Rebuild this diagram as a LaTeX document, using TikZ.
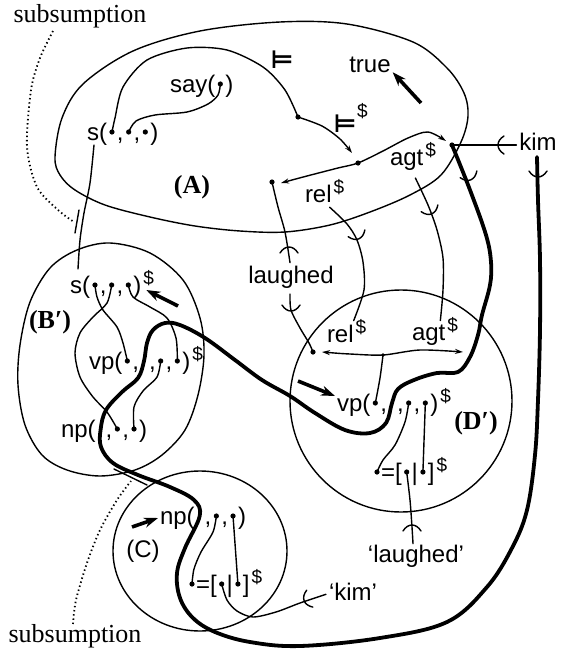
\documentclass[tikz,border=0pt]{standalone}
\usepackage{fontspec}
\setmainfont{Liberation Serif}
\setsansfont{Liberation Sans}
\newfontfamily\symfont{DejaVu Sans}
\usetikzlibrary{calc,arrows.meta}

\tikzset{
  lbl/.style={font=\sffamily\fontsize{24}{28}\selectfont, inner sep=0pt, outer sep=0pt},
  sup/.style={font=\sffamily\fontsize{19}{22}\selectfont, inner sep=0pt, outer sep=0pt},
  serif/.style={font=\rmfamily\fontsize{26}{30}\selectfont, inner sep=0pt, outer sep=0pt},
  regiontag/.style={font=\rmfamily\bfseries\fontsize{26}{30}\selectfont, inner sep=0pt, outer sep=0pt},
  modsym/.style={font=\symfont\bfseries\fontsize{25}{28}\selectfont, inner sep=0pt, outer sep=0pt},
  wire/.style={line width=1.4pt, line cap=round},
  fat/.style={line width=3.8pt, line cap=round, line join=round},
  hint/.style={line width=3.6pt, -{Stealth[length=14pt,width=10pt]}},
  tipe/.style={-{Stealth[length=8pt,width=5pt]}},
  tips/.style={{Stealth[length=8pt,width=5pt]}-{Stealth[length=8pt,width=5pt]}},
  subs/.style={line width=1.8pt, dash pattern=on 1.4pt off 2.8pt},
  arctick/.pic={\draw[wire] (-9,-4) .. controls (-4,4) and (4,4) .. (9,-4);},
}

% a term such as vp(.,.,.): head text, then #5 argument slots with named dots
\newcommand\argrow[5]{%
  \node[lbl, anchor=base west] (#1-0) at (#2,#3) {#4(};
  \foreach \i in {1,...,#5}{%
    \pgfmathtruncatemacro\j{\i-1}%
    \coordinate (#1-d\i) at ($(#1-\j.base east)+(5,-8)$);
    \ifnum\i<#5\relax
      \node[lbl, anchor=base west] (#1-\i) at ($(#1-\j.base east)+(10,0)$) {,};
    \else
      \node[lbl, anchor=base west] (#1-\i) at ($(#1-\j.base east)+(10,0)$) {)};
    \fi
  }%
}
% a list term .=[.|.]$
\newcommand\eqrow[3]{%
  \coordinate (#1-d0) at (#2,#3-8);
  \node[lbl, anchor=base west] (#1-a) at (#2+4,#3) {=[};
  \coordinate (#1-d1) at ($(#1-a.base east)+(5,-8)$);
  \node[lbl, anchor=base west] (#1-b) at ($(#1-a.base east)+(10,0)$) {|};
  \coordinate (#1-d2) at ($(#1-b.base east)+(5,-8)$);
  \node[lbl, anchor=base west] (#1-c) at ($(#1-b.base east)+(10,0)$) {]};
  \node[sup, anchor=base west] (#1-dol) at ($(#1-c.base east)+(2,-9)$) {\$};
}
\newcommand\dollarafter[1]{%
  \node[sup, anchor=base west] (#1-dol) at ($(#1.base east)+(2,-9)$) {\$};
}

\begin{document}
\begin{tikzpicture}[x=1pt, y=-1pt]
\useasboundingbox (0,0) rectangle (566,654);

% ---------- region outlines ----------
\draw[wire] plot[smooth cycle, tension=0.55] coordinates {(55,157) (62,118) (83,84) (133,51) (200,31) (280,22) (347,24) (413,42) (447,68) (464,93) (468,116) (461,142) (441,175) (410,195) (370,212) (330,225) (285,232) (240,231) (195,226) (150,217) (105,205) (75,190) (60,175)};
\draw[wire] plot[smooth cycle, tension=0.55] coordinates {(110,243) (150,253) (183,280) (200,318) (204,355) (198,395) (185,430) (162,455) (135,470) (100,476) (67,470) (42,455) (25,425) (18,385) (20,345) (30,302) (50,268) (77,250)};
\draw[wire] (401,401) circle[radius=111pt];
\draw[wire] (200,551) ellipse[x radius=87pt, y radius=80pt];

% ---------- terms ----------
\argrow{sA}{87}{140}{s}{3}
\argrow{say}{170}{92}{say}{1}
\argrow{sB}{70}{293}{s}{3} \dollarafter{sB-3}
\argrow{vpB}{89}{369}{vp}{4} \dollarafter{vpB-4}
\argrow{npB}{61}{437}{np}{3}
\argrow{vpD}{337}{411}{vp}{4} \dollarafter{vpD-4}
\argrow{npC}{160}{524}{np}{3}
\eqrow{eqD}{377}{480}
\eqrow{eqC}{192}{592}

% ---------- labels ----------
\node[lbl, anchor=base] (true) at (370,72) {true};
\node[lbl, anchor=base] (kim) at (538,150) {kim};
\node[lbl, anchor=base] (laughed) at (291,283) {laughed};
\node[lbl, anchor=base west] (relA) at (305,202) {rel}; \dollarafter{relA}
\node[lbl, anchor=base west] (agtA) at (390,165) {agt}; \dollarafter{agtA}
\node[lbl, anchor=base west] (relD) at (327,342) {rel}; \dollarafter{relD}
\node[lbl, anchor=base west] (agtD) at (412,340) {agt}; \dollarafter{agtD}
\node[lbl, anchor=base] (laughq) at (416,562) {`laughed'};
\node[lbl, anchor=base] (kimq) at (353,600) {`kim'};
\node[regiontag] (tagA) at (192,187) {(A)};
\node[regiontag] (tagB) at (50,322) {(B′)};
\node[regiontag] (tagD) at (476,423) {(D′)};
\node[lbl] (tagC) at (143,551) {(C)};
\node[serif, anchor=base] (subT) at (80,22) {subsumption};
\node[serif, anchor=base] (subB) at (75,642) {subsumption};
\node[modsym] (mod1) at (282,60) {⊨};
\node[modsym] (mod2) at (345,124) {⊨};
\node[sup, anchor=base west] (mod2-dol) at (357,117) {\$};

% ---------- named points ----------
\coordinate (n1) at (298,117);
\coordinate (mA) at (358,163);
\coordinate (rA) at (272,182);
\coordinate (rAt) at (281,183);
\coordinate (K) at (452,145);
\coordinate (Kt) at (446,141);
\coordinate (n1t) at (352,153);
\coordinate (rD) at (313,352);
\coordinate (rDt) at (322,352);
\coordinate (J) at (383,355);
\coordinate (Jt) at (463,352);
\coordinate (kimR) at ($(kim.base)+(-1,7)$);
\coordinate (kimL) at ($(kim.base west)+(-3,-5)$);
\coordinate (sAfoot) at ($(sA-0.base west)+(7,5)$);
\coordinate (sBtop) at ($(sB-0.base west)+(8,-24)$);
\coordinate (laughtop) at ($(laughed.north)+(-1,-3)$);
\coordinate (laughfoot) at ($(laughed.south)+(-1,6)$);
\coordinate (relAfoot) at ($(relA.south east)+(-2,5)$);
\coordinate (relDtop) at ($(relD.north east)+(0,-4)$);
\coordinate (agtAfoot) at ($(agtA.south east)+(-8,8)$);
\coordinate (agtDtop) at ($(agtD.north east)+(-5,-4)$);
\coordinate (laughqtop) at ($(laughq.north)+(-3,-1)$);
\coordinate (kimqend) at ($(kimq.west)+(-3,3)$);
\coordinate (subTfoot) at ($(subT.base)+(-27,9)$);
\coordinate (subBtop) at ($(subB.base)+(-2,-18)$);

% ---------- region A ----------
\draw[wire] plot[smooth] coordinates {(sA-d1) (115,118) (123,87) (147,60) (187,48) (227,50) (263,67) (285,90) (n1)};
\draw[wire, tipe] plot[smooth] coordinates {(n1) (322,126) (340,139) (n1t)};
\draw[wire] plot[smooth] coordinates {(sA-d2) (136,121) (155,115) (187,112) (208,104) (218,95) (say-d1)};
\draw[wire, tips] plot[smooth] coordinates {(rAt) (307,176) (338,168) (mA) (383,151) (408,138) (428,132) (Kt)};
\draw[wire] (kimL) -- (K);
\draw[wire] plot[smooth] coordinates {(rA) (278,207) (285,232) (laughtop)};
\draw[wire] plot[smooth] coordinates {(laughfoot) (291,310) (300,328) (309,343) (rD)};
\draw[wire] plot[smooth] coordinates {(relAfoot) (347,224) (357,240) (363,262) (364,290) (relDtop)};
\draw[wire] plot[smooth] coordinates {(agtAfoot) (428,205) (437,230) (443,258) (443,290) (agtDtop)};

% ---------- A to B' ----------
\draw[wire] plot[smooth] coordinates {(sAfoot) (90,183) (84,213) (80,240) (sBtop)};
\draw[wire] (79,210) -- (75,233);
\draw[subs] plot[smooth] coordinates {(subTfoot) (40,58) (31,90) (27,147) (37,187) (58,210) (74,222)};

% ---------- region B' ----------
\draw[wire] plot[smooth] coordinates {(sB-d1) (97,297) (103,310) (117,327) (123,343) (vpB-d1)};
\draw[wire] plot[smooth] coordinates {(sB-d2) (107,303) (93,317) (80,333) (75,353) (80,377) (93,397) (107,412) (npB-d2)};
\draw[wire] plot[smooth] coordinates {(sB-d3) (133,297) (150,307) (167,318) (176,338) (vpB-d4)};
\draw[wire] plot[smooth] coordinates {(vpB-d3) (157,377) (143,391) (134,407) (npB-d3)};

% ---------- region D' ----------
\draw[wire, tips] plot[smooth] coordinates {(rDt) (350,354) (J) (420,350) (Jt)};
\draw[wire] plot[smooth] coordinates {(J) (380,378) (vpD-d1)};
\draw[wire] plot[smooth] coordinates {(vpD-d3) (405,422) (395,445) (383,460) (eqD-d0)};
\draw[wire] (vpD-d4) -- (eqD-d2);
\draw[wire] plot[smooth] coordinates {(eqD-d1) (410,500) (412,527) (laughqtop)};

% ---------- region C ----------
\draw[wire] plot[smooth] coordinates {(npC-d2) (213,532) (201,552) (194,569) (eqC-d0)};
\draw[wire] (npC-d3) -- (eqC-d2);
\draw[wire] plot[smooth] coordinates {(eqC-d1) (227,600) (237,611) (253,617) (276,612) (300,603) (kimqend)};
\draw[wire] (114,469) -- (147,485);
\draw[subs] plot[smooth] coordinates {(subBtop) (76,600) (87,563) (100,530) (117,500) (131,481)};

% ---------- the kim thread ----------
\draw[fat] plot[smooth, tension=0.6] coordinates {(kimR) (538,200) (540,260) (540,330) (538,400) (535,455) (527,510) (512,548) (487,587) (447,622) (380,638) (300,646) (250,642) (215,632) (193,618) (180,598) (177,573) (185,548) (npC-d1) (194,500) (170,487) (138,475) (113,463) (101,447) (npB-d1) (106,410) (122,392) (138,378) (vpB-d2) (147,343) (153,330) (165,323) (180,325) (205,338) (235,360) (262,380) (290,396) (315,413) (345,430) (370,433) (386,423) (vpD-d2) (398,389) (414,380) (437,373) (458,372) (470,357) (478,335) (482,315) (490,285) (491,262) (486,235) (470,190) (K)};

% ---------- boundary ticks ----------
\pic[rotate=180] at (289,249) {arctick};
\pic at (291,309) {arctick};
\pic[rotate=22] at (358,237) {arctick};
\pic[rotate=22] at (431,212) {arctick};
\pic[rotate=22] at (470,178) {arctick};
\pic at (538,175) {arctick};
\pic[rotate=-90] at (500,145) {arctick};
\pic[rotate=180] at (412,527) {arctick};
\pic[rotate=-70] at (306,600) {arctick};

% ---------- focus arrows ----------
\coordinate (trueTail) at (421,103);
\coordinate (sBTail) at (178,306);
\coordinate (vpDTail) at (298,381);
\coordinate (npCTail) at (132,527);
\draw[hint] (trueTail) -- ($(true.south east)+(2,0)$);
\draw[hint] (sBTail) -- ($(sB-3.base east)+(5,-3)$);
\draw[hint] (vpDTail) -- ($(vpD-0.base west)+(-2,-15)$);
\draw[hint] (npCTail) -- ($(npC-0.base west)+(-2,-6)$);

% ---------- argument dots ----------
\foreach \p in {sA-d1,sA-d2,sA-d3,say-d1,n1,mA,rA,K,sB-d1,sB-d2,sB-d3,vpB-d1,vpB-d3,vpB-d4,npB-d2,npB-d3,rD,vpD-d1,vpD-d3,vpD-d4,eqD-d0,eqD-d1,eqD-d2,npC-d2,npC-d3,eqC-d0,eqC-d1,eqC-d2}
  {\fill (\p) circle[radius=2.6pt];}
\fill (J) circle[radius=1.8pt];
\end{tikzpicture}
\end{document}
